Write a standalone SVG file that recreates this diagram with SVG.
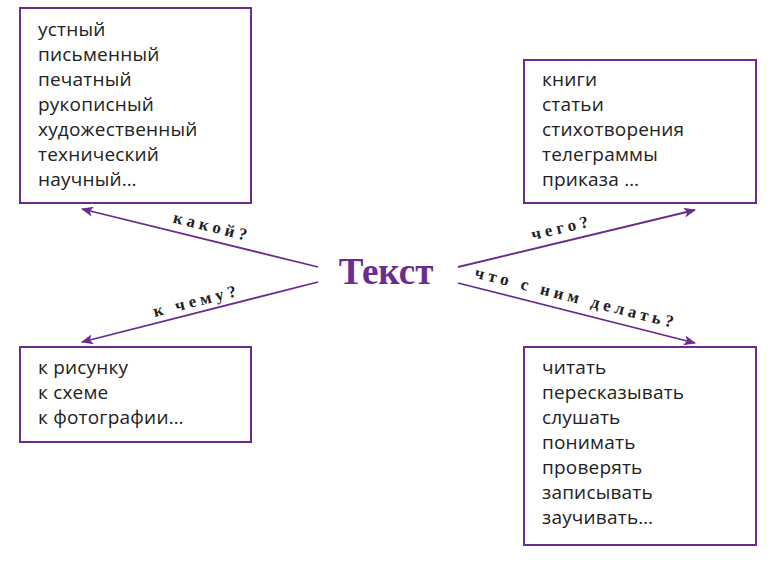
<svg xmlns="http://www.w3.org/2000/svg" width="776" height="566" viewBox="0 0 776 566">
<style>
.box rect{fill:#fff;stroke:#6a2c8e;stroke-width:2}
.box text{font-family:"Open Sans","Noto Sans",sans-serif;font-size:19px;fill:#222;letter-spacing:0.2px}
.lbl{font-family:"Liberation Serif",serif;font-size:17px;font-weight:bold;letter-spacing:4.2px;fill:#222;text-anchor:middle}
.ln{stroke:#6a2c8e;stroke-width:1.8;fill:none;marker-end:url(#a)}
</style>
<defs><marker id="a" viewBox="0 0 12 10" refX="11" refY="5" markerWidth="12" markerHeight="10" markerUnits="userSpaceOnUse" orient="auto"><path d="M0,0 L12,5 L0,10 L3,5 Z" fill="#6a2c8e"/></marker></defs>
<rect width="776" height="566" fill="#fff"/>
<g id="connectors">
<line class="ln" x1="318" y1="267" x2="82" y2="209"/>
<line class="ln" x1="318" y1="282" x2="82" y2="342"/>
<line class="ln" x1="458" y1="267" x2="695" y2="210"/>
<line class="ln" x1="458" y1="283" x2="695" y2="343"/>
<text class="lbl" transform="translate(211,232) rotate(13.8)">какой?</text>
<text class="lbl" transform="translate(198,306) rotate(-14.2)">к чему?</text>
<text class="lbl" transform="translate(563,233) rotate(-13.5)">чего?</text>
<text class="lbl" transform="translate(575,303) rotate(14.2)">что с ним делать?</text>
</g>
<g id="center"><text x="386" y="284" text-anchor="middle" font-family="Liberation Serif,serif" font-weight="bold" font-size="37" fill="#6a2c8e">Текст</text></g>
<g id="n1" class="box"><rect x="20" y="8" width="231" height="195"/>
<text x="38" y="36">устный</text><text x="38" y="61">письменный</text><text x="38" y="86">печатный</text><text x="38" y="111">рукописный</text><text x="38" y="136">художественный</text><text x="38" y="161">технический</text><text x="38" y="186">научный…</text></g>
<g id="n2" class="box"><rect x="524" y="60" width="232" height="143"/>
<text x="542" y="86">книги</text><text x="542" y="111">статьи</text><text x="542" y="136">стихотворения</text><text x="542" y="161">телеграммы</text><text x="542" y="186">приказа …</text></g>
<g id="n3" class="box"><rect x="20" y="347" width="231" height="95"/>
<text x="38" y="374">к рисунку</text><text x="38" y="399">к схеме</text><text x="38" y="424">к фотографии…</text></g>
<g id="n4" class="box"><rect x="524" y="347" width="232" height="198"/>
<text x="542" y="374">читать</text><text x="542" y="399">пересказывать</text><text x="542" y="424">слушать</text><text x="542" y="449">понимать</text><text x="542" y="474">проверять</text><text x="542" y="499">записывать</text><text x="542" y="524">заучивать…</text></g>
</svg>
